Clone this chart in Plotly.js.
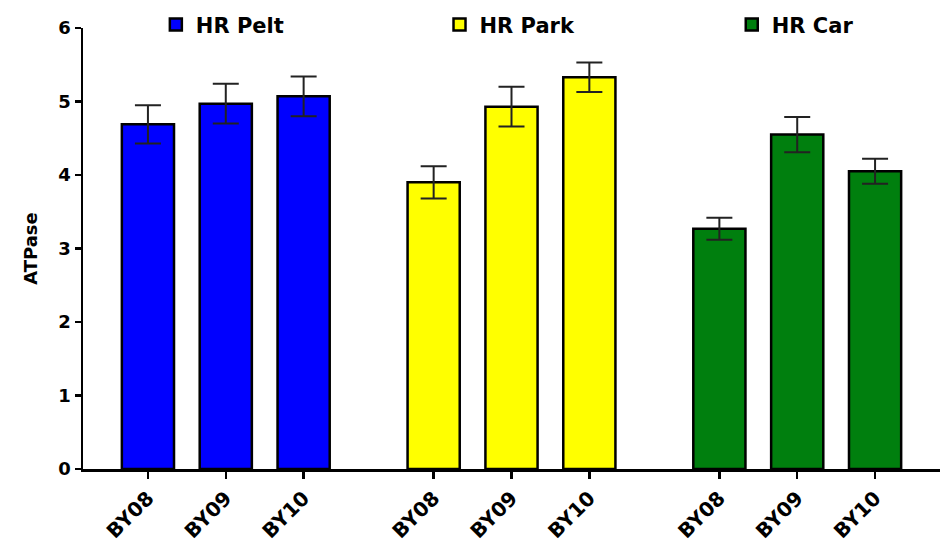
<!DOCTYPE html>
<html>
<head>
<meta charset="utf-8">
<script src="https://cdn.plot.ly/plotly-3.0.1.min.js"></script>
<style>html,body{margin:0;padding:0;background:#fff;}#chart{width:949px;height:544px;}</style>
</head>
<body>
<div id="chart"></div>
<script>
// Data
const seriesNames = ["HR Pelt", "HR Park", "HR Car"];
const tickLabels = ["BY08", "BY09", "BY10"];
const peltValues = [4.69, 4.97, 5.07];
const peltErrors = [0.26, 0.27, 0.27];
const parkValues = [3.90, 4.93, 5.33];
const parkErrors = [0.22, 0.27, 0.20];
const carValues = [3.27, 4.55, 4.05];
const carErrors = [0.15, 0.24, 0.17];
const colors = ["#0000ff", "#ffff00", "#007f0e"];

// Positions: 3 bars per group, groups separated by a wider gap
const groupGap = 1.67;
function groupX(g) { return tickLabels.map((_, i) => g * (2 + groupGap) + i); }

const allValues = [peltValues, parkValues, carValues];
const allErrors = [peltErrors, parkErrors, carErrors];
const legendIds = ["legend", "legend2", "legend3"];

const traces = allValues.map((vals, g) => ({
  type: "bar",
  x: groupX(g),
  y: vals,
  name: seriesNames[g],
  legend: legendIds[g],
  width: 0.67,
  marker: { color: colors[g], line: { color: "#000", width: 2.5 } },
  error_y: { type: "data", array: allErrors[g], visible: true, color: "#222", thickness: 2, width: 13 },
  hoverinfo: "x+y"
}));

let tickvals = [], ticktext = [];
for (let g = 0; g < 3; g++) { tickvals = tickvals.concat(groupX(g)); ticktext = ticktext.concat(tickLabels); }

const lastX = groupX(2)[2];
const FF = "DejaVu Sans, Liberation Sans, Arial, sans-serif";
const legendFont = { family: FF, size: 21, color: "#000", weight: "bold" };
function mkLegend(x) {
  return { x: x, xanchor: "left", y: 1.007, yanchor: "middle", orientation: "h", bgcolor: "rgba(0,0,0,0)", font: legendFont, borderwidth: 0 };
}

const layout = {
  width: 949, height: 544,
  margin: { l: 83, r: 9, t: 28, b: 75, autoexpand: false },
  paper_bgcolor: "#fff", plot_bgcolor: "#fff",
  showlegend: true,
  legend: mkLegend(0.085),
  legend2: mkLegend(0.416),
  legend3: mkLegend(0.757),
  xaxis: {
    range: [-0.834, lastX + 0.834],
    tickvals: tickvals, ticktext: ticktext,
    tickangle: -45,
    showgrid: false, zeroline: false,
    showline: true, linecolor: "#000", linewidth: 2.5,
    ticks: "outside", ticklen: 7, tickwidth: 2.5, tickcolor: "#000",
    tickfont: { family: FF, size: 20, color: "#000", weight: "bold" }
  },
  yaxis: {
    range: [0, 6], tickvals: [0, 1, 2, 3, 4, 5, 6],
    showgrid: false, zeroline: false,
    showline: true, linecolor: "#000", linewidth: 2.5,
    ticks: "outside", ticklen: 6, tickwidth: 2.5, tickcolor: "#000",
    tickfont: { family: FF, size: 18, color: "#000", weight: "bold" },
    title: { text: "ATPase", font: { family: FF, size: 18, color: "#000", weight: "bold" }, standoff: 16 }
  }
};

Plotly.newPlot("chart", traces, layout, { displayModeBar: false, staticPlot: true });
</script>
</body>
</html>
